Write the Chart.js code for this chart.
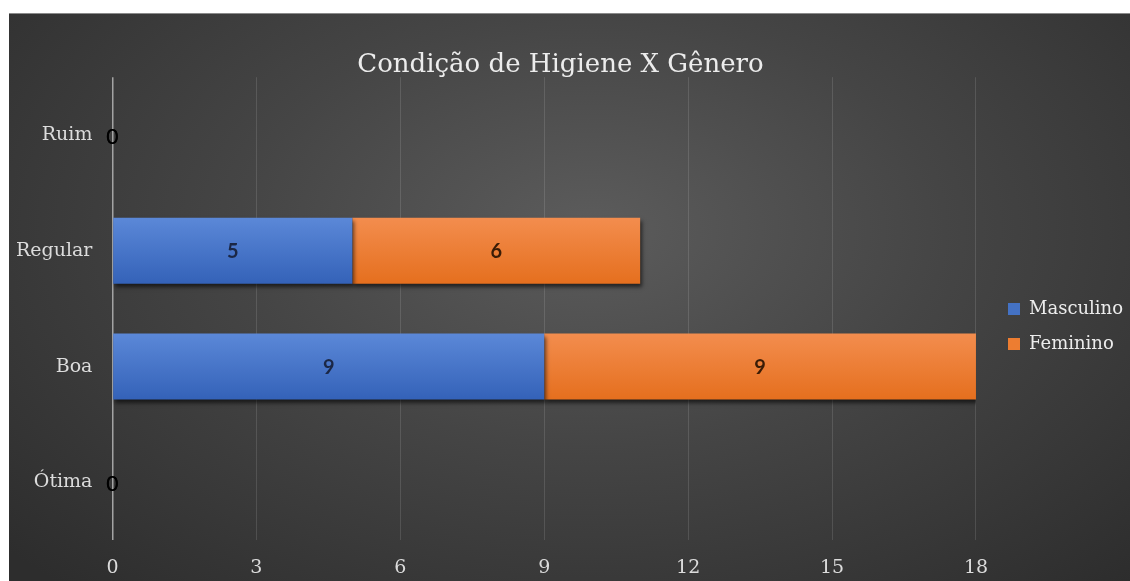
<!DOCTYPE html>
<html>
<head>
<meta charset="utf-8">
<script src="https://cdn.jsdelivr.net/npm/chart.js@4/dist/chart.umd.min.js"></script>
<style>
  html, body { margin: 0; padding: 0; background: #fff; }
  #box {
    position: absolute; left: 9px; top: 13px; width: 1121px; height: 568px;
    background: radial-gradient(ellipse 70% 85% at 52% 38%, #5c5c5c 0%, #454545 45%, #2d2d2d 100%);
    border-top: 1px solid #8a8a8a; box-sizing: border-box;
  }
</style>
</head>
<body>
<div id="box"><canvas id="myChart" width="1121" height="567"></canvas></div>
<script>
const categories = ['Ruim', 'Regular', 'Boa', 'Ótima'];
const masculino = [0, 5, 9, 0];
const feminino = [0, 6, 9, 0];
const xTicks = [0, 3, 6, 9, 12, 15, 18];

Chart.defaults.font.family = "'DejaVu Serif', serif";

function barFill(top, bottom) {
  return function (c) {
    const chart = c.chart;
    const ys = chart.scales.y;
    if (!ys || !chart.chartArea) return top;
    const yc = ys.getPixelForValue(c.dataIndex);
    const g = chart.ctx.createLinearGradient(0, yc - 33, 0, yc + 33);
    g.addColorStop(0, top);
    g.addColorStop(1, bottom);
    return g;
  };
}

// shadow under the bars + value labels
const barExtras = {
  id: 'barExtras',
  beforeDatasetsDraw(chart) {
    const ctx = chart.ctx;
    ctx.save();
    ctx.shadowColor = 'rgba(0,0,0,0.6)';
    ctx.shadowBlur = 4;
    ctx.shadowOffsetX = 2;
    ctx.shadowOffsetY = 3;
  },
  afterDatasetsDraw(chart) {
    const ctx = chart.ctx;
    ctx.restore();
    ctx.save();
    ctx.textAlign = 'center';
    ctx.textBaseline = 'middle';
    chart.data.datasets.forEach((ds, i) => {
      const meta = chart.getDatasetMeta(i);
      meta.data.forEach((el, j) => {
        const v = ds.data[j];
        if (v === 0) {
          ctx.font = "21px Lato";
          ctx.fillStyle = '#000';
          ctx.fillText('0', el.base, el.y + 2);
        } else {
          ctx.font = "bold 20px Lato";
          ctx.fillStyle = ds.labelColor;
          ctx.fillText(String(v), (el.x + el.base) / 2, el.y + 1);
        }
      });
    });
    ctx.restore();
  }
};

// move the legend away from the plot, like the original
const legendGap = {
  id: 'legendGap',
  beforeLayout(chart) {
    const lg = chart.legend;
    if (lg && !lg._gap) {
      const fit = lg.fit;
      lg.fit = function () { fit.call(this); this.width += 7; };
      lg._gap = true;
    }
  },
  afterLayout(chart) {
    const lg = chart.legend;
    lg.left += 15;
    lg.top += 22;
    lg.bottom += 22;
  }
};

const ctx = document.getElementById('myChart').getContext('2d');
const myChart = new Chart(ctx, {
  type: 'bar',
  data: {
    labels: categories,
    datasets: [{
      label: 'Masculino',
      data: masculino,
      backgroundColor: barFill('#5b88d8', '#3462b8'),
      legendColor: '#4472C4',
      labelColor: '#1b2745'
    }, {
      label: 'Feminino',
      data: feminino,
      backgroundColor: barFill('#f38d4e', '#e56f1e'),
      legendColor: '#ED7D31',
      labelColor: '#3a1c06'
    }]
  },
  options: {
    indexAxis: 'y',
    responsive: false,
    animation: false,
    barPercentage: 0.57,
    categoryPercentage: 1,
    layout: { padding: { left: -13, right: 5, top: 0, bottom: -14 } },
    plugins: {
      title: {
        display: true,
        text: 'Condição de Higiene X Gênero',
        color: '#ececec',
        font: { size: 26, weight: 'normal' },
        padding: { top: 36, bottom: -4 }
      },
      legend: {
        position: 'right',
        labels: {
          color: '#ececec',
          font: { size: 18 },
          boxWidth: 12,
          boxHeight: 12,
          padding: 17,
          generateLabels(chart) {
            return chart.data.datasets.map((ds, i) => ({
              text: ds.label,
              fillStyle: ds.legendColor,
              strokeStyle: ds.legendColor,
              lineWidth: 0,
              fontColor: '#ececec',
              datasetIndex: i
            }));
          }
        }
      },
      tooltip: { enabled: false }
    },
    scales: {
      x: {
        stacked: true,
        min: 0,
        max: 18,
        afterBuildTicks(axis) { axis.ticks = xTicks.map(v => ({ value: v })); },
        grid: {
          color: c => c.tick && c.tick.value === 0 ? '#a3a3a3' : 'rgba(255,255,255,0.12)',
          lineWidth: c => c.tick && c.tick.value === 0 ? 1.5 : 1,
          drawTicks: false
        },
        border: { display: false },
        ticks: { color: '#dcdcdc', font: { size: 19 }, padding: 16 }
      },
      y: {
        stacked: true,
        grid: { display: false, drawTicks: false },
        border: { display: false },
        ticks: { color: '#dcdcdc', font: { size: 19 }, padding: 20 }
      }
    }
  },
  plugins: [barExtras, legendGap]
});
</script>
</body>
</html>
